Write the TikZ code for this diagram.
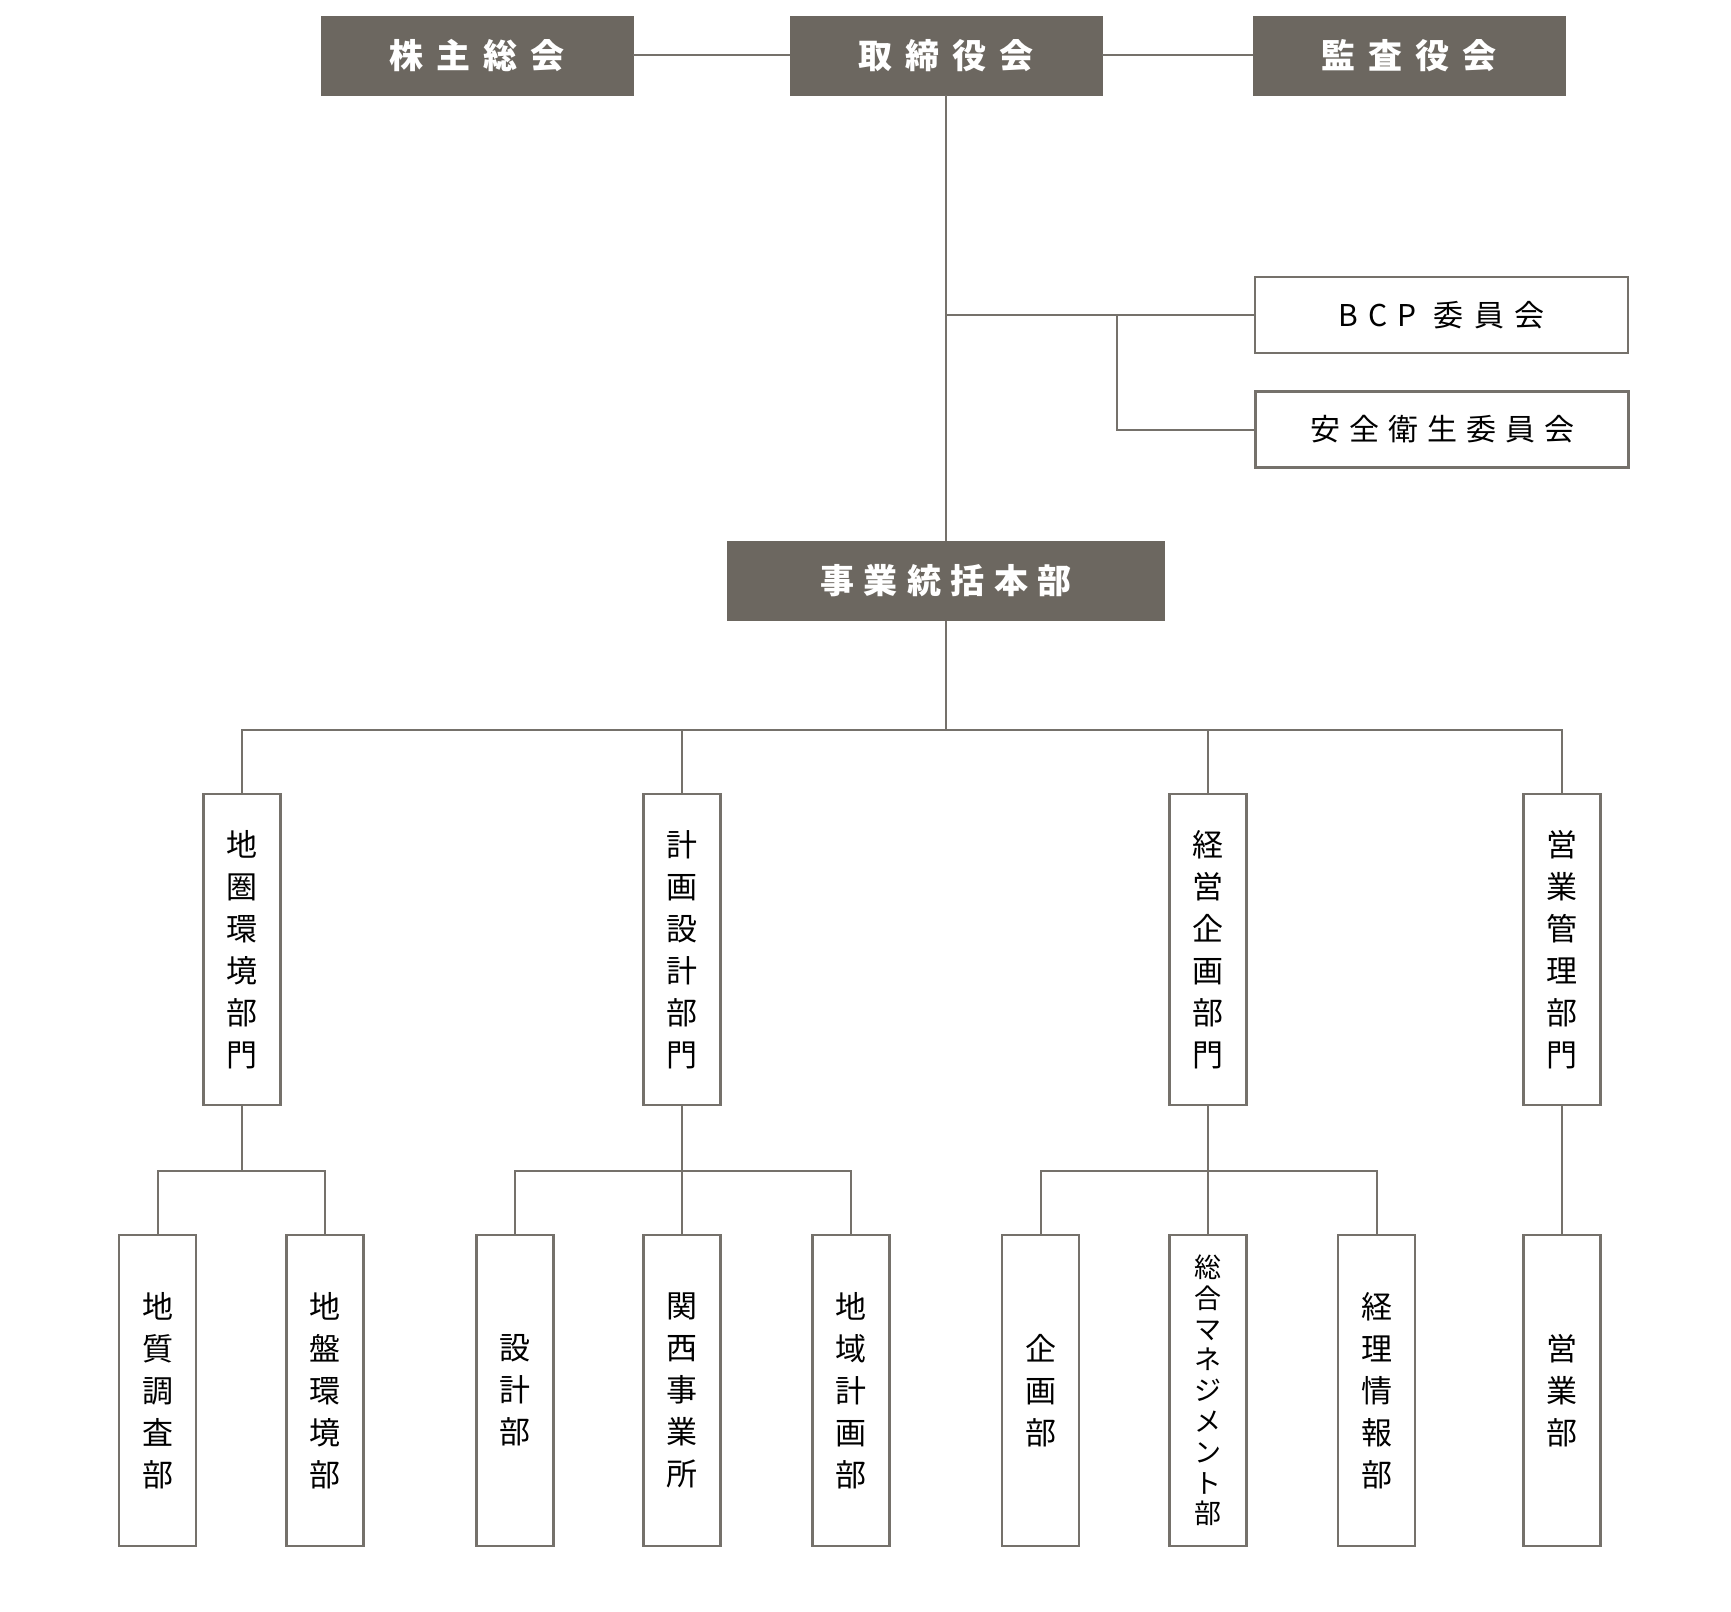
\documentclass[tikz,border=0pt]{standalone}
\usepackage{fontspec}
\setmainfont{Noto Sans CJK JP}
\newfontfamily\jpfont{Noto Sans CJK JP}
\definecolor{boxgray}{HTML}{6C6760}
\definecolor{linegray}{HTML}{75716B}
\tikzset{
  darkbox/.style={fill=boxgray, draw=boxgray, text=white, inner sep=0pt,
    minimum width=312pt, minimum height=79pt,
    font=\jpfont\bfseries\fontsize{34}{40}\selectfont\addfontfeature{LetterSpace=38}},
  iinbox/.style={fill=white, draw=linegray, line width=2.5pt, inner sep=0pt,
    minimum width=373pt, minimum height=76pt,
    font=\jpfont\fontsize{30}{36}\selectfont\addfontfeature{LetterSpace=30}},
  tatebox/.style={fill=white, draw=linegray, line width=2.5pt, inner sep=0pt,
    minimum width=77pt, minimum height=311pt, align=center,
    font=\jpfont\fontsize{31}{42}\selectfont},
  link/.style={draw=linegray, line width=2pt}
}
\begin{document}
\begin{tikzpicture}[x=1pt,y=-1pt]
  \useasboundingbox (0,0) rectangle (1731,1611);
  \node[darkbox] (soukai) at (477,55.5) {株主総会};
  \node[darkbox] (torishimari) at (946,55.5) {取締役会};
  \node[darkbox] (kansa) at (1409,55.5) {監査役会};
  \node[iinbox, font=\jpfont\fontsize{30}{36}\selectfont\addfontfeature{LetterSpace=34}] (bcp) at (1441.5,315) {BCP 委員会};
  \node[iinbox] (anzen) at (1442,429.5) {安全衛生委員会};
  \node[darkbox, minimum width=437pt, font=\jpfont\bfseries\fontsize{34}{40}\selectfont\addfontfeature{LetterSpace=28}] (honbu) at (946,581) {事業統括本部};

  \node[tatebox] (chiken) at (242,949.5) {地\\圏\\環\\境\\部\\門};
  \node[tatebox] (keikaku) at (682,949.5) {計\\画\\設\\計\\部\\門};
  \node[tatebox] (keiei) at (1208,949.5) {経\\営\\企\\画\\部\\門};
  \node[tatebox] (eigyokanri) at (1562,949.5) {営\\業\\管\\理\\部\\門};

  \node[tatebox] (chishitsu) at (157.5,1390.5) {地\\質\\調\\査\\部};
  \node[tatebox] (jiban) at (325,1390.5) {地\\盤\\環\\境\\部};
  \node[tatebox] (sekkei) at (515,1390.5) {設\\計\\部};
  \node[tatebox] (kansai) at (682,1390.5) {関\\西\\事\\業\\所};
  \node[tatebox] (chiiki) at (851,1390.5) {地\\域\\計\\画\\部};
  \node[tatebox] (kikaku) at (1040.5,1390.5) {企\\画\\部};
  \node[tatebox, font=\jpfont\fontsize{27}{30.8}\selectfont] (soumu) at (1208,1390.5) {総\\合\\マ\\ネ\\ジ\\メ\\ン\\ト\\部};
  \node[tatebox] (keiri) at (1376.5,1390.5) {経\\理\\情\\報\\部};
  \node[tatebox] (eigyo) at (1562,1390.5) {営\\業\\部};

  \coordinate (iin) at (946,315);
  \coordinate (iinjunc) at (1117,315);
  \coordinate (bus) at (946,730);
  \coordinate (chikenbr) at (242,1171);
  \coordinate (keikakubr) at (682,1171);
  \coordinate (keieibr) at (1208,1171);

  \begin{scope}[link]
    \draw (soukai) -- (torishimari);
    \draw (torishimari) -- (kansa);
    \draw (torishimari) -- (honbu);
    \draw (iin) -- (bcp);
    \draw (iinjunc) |- (anzen);
    \draw (honbu) -- (bus);
    \draw (chiken.north) |- (bus) -| (eigyokanri.north);
    \draw (keikaku.north) -- (keikaku.north |- bus);
    \draw (keiei.north) -- (keiei.north |- bus);
    \draw (chiken) -- (chikenbr);
    \draw (chishitsu.north) |- (chikenbr) -| (jiban.north);
    \draw (keikaku) -- (kansai);
    \draw (sekkei.north) |- (keikakubr) -| (chiiki.north);
    \draw (keiei) -- (soumu);
    \draw (kikaku.north) |- (keieibr) -| (keiri.north);
    \draw (eigyokanri) -- (eigyo);
  \end{scope}
\end{tikzpicture}
\end{document}
